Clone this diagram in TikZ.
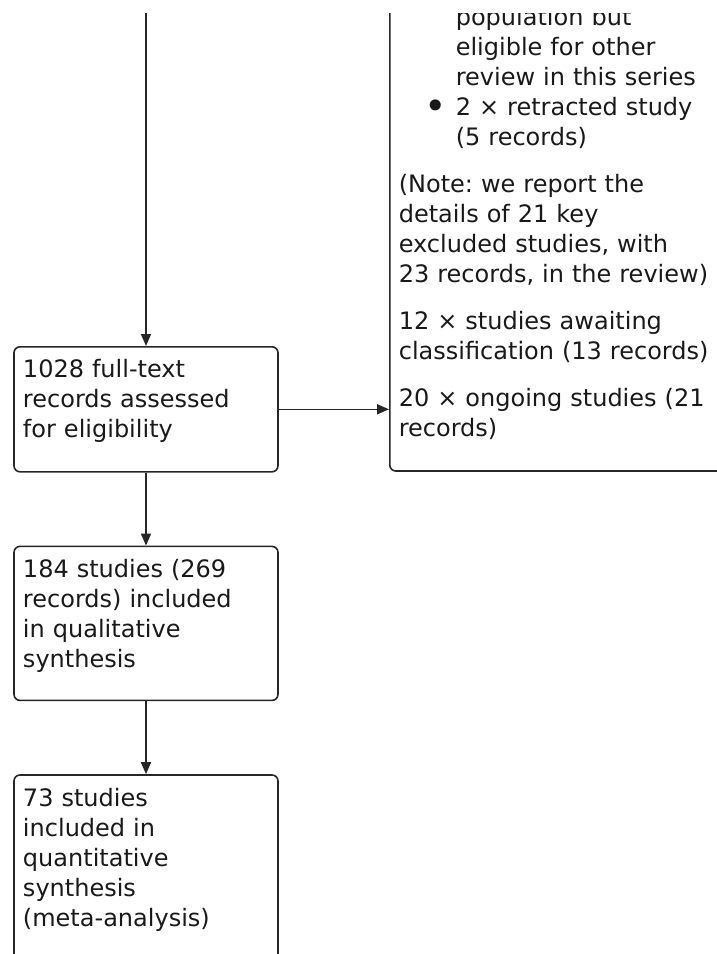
\documentclass[tikz,border=0pt]{standalone}
\usepackage{fontspec}
\setmainfont{DejaVu Sans}
\frenchspacing
\usepackage{tikz}
\usetikzlibrary{arrows.meta, positioning, calc}
\tikzset{
  flowbox/.style={
    rectangle, rounded corners=6pt,
    draw=black!85, line width=1.6pt,
    text width=246pt, align=left,
    inner xsep=9pt, inner ysep=13pt, text height=18pt,
    font=\fontsize{24}{30}\selectfont, text=black!90
  },
  exclbox/.style={
    flowbox, text width=318pt
  },
  arr/.style={-{Triangle[width=10pt,length=12pt]}, line width=1.6pt, draw=black!85}
}
\newcommand{\bigdot}{\raisebox{-4pt}{\fontsize{38}{30}\selectfont\textbullet}}

\begin{document}
\begin{tikzpicture}[x=1pt, y=1pt, node distance=73pt]

\useasboundingbox (0,0) rectangle (717,-954);

\begin{scope}
\clip (0,-13) rectangle (717,-954);

% ── Left column: full-text to synthesis ─────────────────────
\coordinate (fromtop) at (146,0);

\node[flowbox, text depth=81pt, anchor=north] (fulltext) at (146,-346) {%
  1028 full-text\\
  records assessed\\
  for eligibility
};

\node[flowbox, text depth=110pt, below=of fulltext] (qualit) {%
  184 studies (269\\
  records) included\\
  in qualitative\\
  synthesis
};

\node[flowbox, text depth=142pt, below=of qualit] (quantit) {%
  73 studies\\
  included in\\
  quantitative\\
  synthesis\\
  (meta-analysis)
};

% ── Right column: excluded records ──────────────────────────
\node[exclbox, text height=40pt, text depth=433pt, anchor=base west]
      (excluded) at (389,-25) {%
  \hspace*{57pt}population but\\
  \hspace*{57pt}eligible for other\\
  \hspace*{57pt}review in this series\\
  \hspace*{26pt}\makebox[31pt][l]{\bigdot}2 × retracted study\\
  \hspace*{57pt}(5 records)\\[17pt]
  (Note: we report the\\
  details of 21 key\\
  excluded studies, with\\
  23 records, in the review)\\[17pt]
  12 × studies awaiting\\
  classification (13 records)\\[17pt]
  20 × ongoing studies (21\\
  records)
};

% ── Arrows ──────────────────────────────────────────────────
\draw[arr] (fromtop) -- (fulltext);
\draw[arr] (fulltext) -- (qualit);
\draw[arr] (qualit)   -- (quantit);
\draw[arr] (fulltext.east) -- (fulltext.east -| excluded.west);

\end{scope}

\end{tikzpicture}
\end{document}
